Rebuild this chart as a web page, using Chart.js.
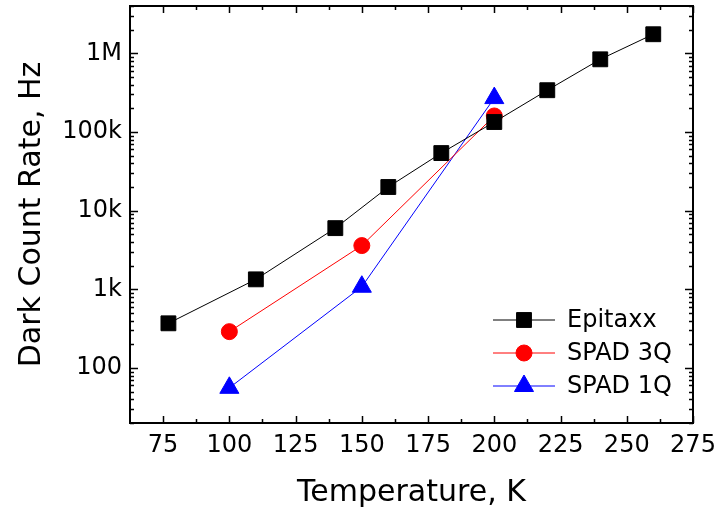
<!DOCTYPE html>
<html>
<head>
<meta charset="utf-8">
<title>Dark count rate vs temperature</title>
<script src="https://cdn.jsdelivr.net/npm/chart.js@4.4.0/dist/chart.umd.min.js"></script>
<style>
  html, body { margin: 0; padding: 0; background: #fff; }
  canvas { display: block; }
</style>
</head>
<body>
<canvas id="dcr" width="719" height="515"></canvas>
<script>
// Temperatures (K) and dark count rates (Hz) per device
const epitaxxTemps = [77, 110, 140, 160, 180, 200, 220, 240, 260];
const epitaxxRates = [370, 1340, 6000, 20000, 54000, 134000, 340000, 840000, 1750000];

const spad3qTemps = [100, 150, 200];
const spad3qRates = [290, 3600, 160000];

const spad1qTemps = [100, 150, 200];
const spad1qRates = [56, 1080, 270000];

const xTickValues = [75, 100, 125, 150, 175, 200, 225, 250, 275];
const yTickValues = [100, 1000, 10000, 100000, 1000000];
const yTickLabels = ['100', '1k', '10k', '100k', '1M'];

const FONT = '"DejaVu Sans", Verdana, sans-serif';

const toPoints = (xs, ys) => xs.map((x, i) => ({ x: x, y: ys[i] }));

// Inward ticks on all four sides plus the closed frame
const framePlugin = {
    id: 'frame',
    beforeDatasetsDraw(chart) {
        const { ctx, chartArea: a, scales } = chart;
        const xs = scales.x, ys = scales.y;
        ctx.save();
        ctx.strokeStyle = '#000';
        ctx.lineWidth = 1.5;

        const vTick = (px, len) => {
            ctx.beginPath();
            ctx.moveTo(px, a.bottom); ctx.lineTo(px, a.bottom - len);
            ctx.moveTo(px, a.top); ctx.lineTo(px, a.top + len);
            ctx.stroke();
        };
        const hTick = (py, len) => {
            ctx.beginPath();
            ctx.moveTo(a.left, py); ctx.lineTo(a.left + len, py);
            ctx.moveTo(a.right, py); ctx.lineTo(a.right - len, py);
            ctx.stroke();
        };

        xTickValues.forEach((v, i) => {
            vTick(Math.round(xs.getPixelForValue(v)) + 0.5, 7);
            if (i < xTickValues.length - 1) {
                const mid = (v + xTickValues[i + 1]) / 2;
                vTick(Math.round(xs.getPixelForValue(mid)) + 0.5, 4);
            }
        });

        for (let d = 10; d <= 1e6; d *= 10) {
            for (let m = 1; m <= 9; m++) {
                const v = m * d;
                if (v < ys.min || v > ys.max) continue;
                const major = m === 1 && yTickValues.includes(v);
                hTick(Math.round(ys.getPixelForValue(v)) + 0.5, major ? 8 : 4);
            }
        }

        ctx.lineWidth = 2;
        ctx.strokeRect(a.left, a.top, a.right - a.left, a.bottom - a.top);
        ctx.restore();
    }
};

// Legend with a short line and the marker in the middle of it
const lineLegendPlugin = {
    id: 'lineLegend',
    afterDraw(chart) {
        const { ctx } = chart;
        const x1 = 493, x2 = 555, xm = 524, xt = 567;
        const rows = [320, 353, 386];
        ctx.save();
        chart.data.datasets.forEach((ds, i) => {
            const y = rows[i];
            ctx.strokeStyle = ds.borderColor;
            ctx.lineWidth = 1;
            ctx.beginPath();
            ctx.moveTo(x1, y); ctx.lineTo(x2, y);
            ctx.stroke();
            ctx.fillStyle = ds.pointBackgroundColor;
            ctx.strokeStyle = ds.pointBorderColor;
            Chart.helpers.drawPoint(ctx, {
                pointStyle: ds.pointStyle,
                radius: ds.pointRadius,
                rotation: 0,
                borderWidth: ds.pointBorderWidth
            }, xm, y);
            ctx.fillStyle = '#000';
            ctx.font = '24px ' + FONT;
            ctx.textAlign = 'left';
            ctx.textBaseline = 'middle';
            ctx.fillText(ds.label, xt, y + 1);
        });
        ctx.restore();
    }
};

const series = (label, xs, ys, color, style, radius) => ({
    label: label,
    data: toPoints(xs, ys),
    showLine: true,
    borderColor: color,
    borderWidth: 1,
    pointStyle: style,
    pointRadius: radius,
    pointHoverRadius: radius,
    pointBackgroundColor: color,
    pointBorderColor: color,
    pointBorderWidth: 1
});

new Chart(document.getElementById('dcr'), {
    type: 'scatter',
    data: {
        datasets: [
            series('Epitaxx', epitaxxTemps, epitaxxRates, '#000000', 'rect', 10.5),
            series('SPAD 3Q', spad3qTemps, spad3qRates, '#ff0000', 'circle', 8),
            series('SPAD 1Q', spad1qTemps, spad1qRates, '#0000ff', 'triangle', 11)
        ]
    },
    options: {
        responsive: false,
        animation: false,
        layout: {
            autoPadding: false,
            padding: { top: 6, left: 14, right: 26, bottom: 4 }
        },
        plugins: {
            legend: { display: false },
            tooltip: { enabled: false }
        },
        scales: {
            x: {
                type: 'linear',
                min: 62.5,
                max: 275,
                afterBuildTicks(axis) {
                    axis.ticks = xTickValues.map(v => ({ value: v }));
                },
                afterFit(axis) {
                    axis.height = 88;
                    axis.paddingLeft = 0;
                    axis.paddingRight = 0;
                },
                grid: { display: false, drawTicks: false },
                border: { display: false },
                ticks: {
                    color: '#000',
                    font: { family: FONT, size: 24 },
                    padding: 8,
                    maxRotation: 0,
                    autoSkip: false
                },
                title: {
                    display: true,
                    text: 'Temperature, K',
                    color: '#000',
                    font: { family: FONT, size: 30 },
                    padding: 0
                }
            },
            y: {
                type: 'logarithmic',
                min: 20,
                max: 4000000,
                afterBuildTicks(axis) {
                    axis.ticks = yTickValues.map(v => ({ value: v, major: true }));
                },
                afterFit(axis) {
                    axis.width = 116;
                    axis.paddingTop = 0;
                    axis.paddingBottom = 0;
                },
                grid: { display: false, drawTicks: false },
                border: { display: false },
                ticks: {
                    color: '#000',
                    font: { family: FONT, size: 24 },
                    padding: 8,
                    callback: (v) => yTickLabels[yTickValues.indexOf(v)] ?? ''
                },
                title: {
                    display: true,
                    text: 'Dark Count Rate, Hz',
                    color: '#000',
                    font: { family: FONT, size: 30 },
                    padding: 0
                }
            }
        }
    },
    plugins: [framePlugin, lineLegendPlugin]
});
</script>
</body>
</html>
